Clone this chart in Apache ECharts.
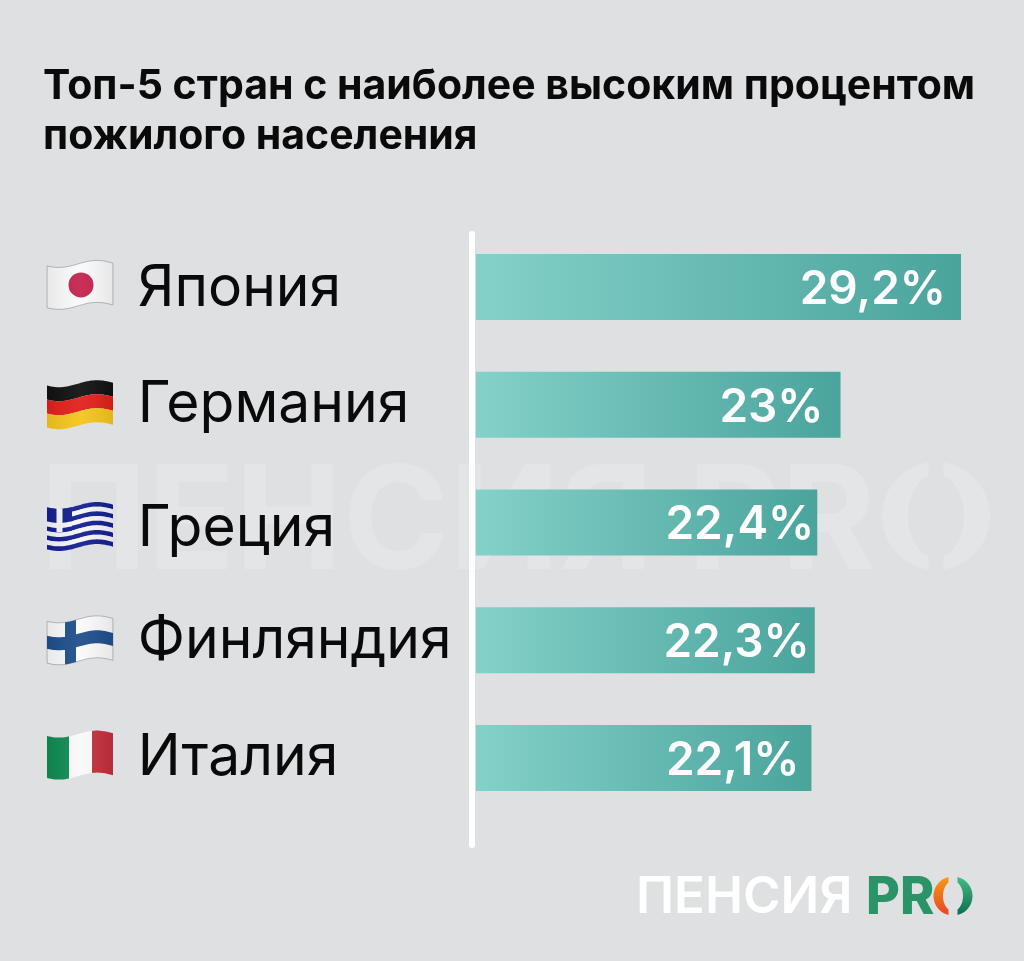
<!DOCTYPE html>
<html lang="ru">
<head>
    <title>Топ-5 стран</title>
    <meta charset="utf-8" />
    <script src="https://cdn.jsdelivr.net/npm/echarts@6/dist/echarts.min.js"></script>
    <style>
        html, body { margin: 0; padding: 0; background-color: #dfe0e2; }
        #main { width: 1024px; height: 961px; }
    </style>
</head>
<body>
<div id="main"></div>
<script>
    let countries = ['Япония', 'Германия', 'Греция', 'Финляндия', 'Италия']
    let flags = ['jp', 'de', 'gr', 'fi', 'it']
    // printed values
    let valueLabels = ['29,2%', '23%', '22,4%', '22,3%', '22,1%']
    // bar lengths as drawn in the picture (they are not proportional to the printed values)
    let barLengths = [29.2, 21.95, 20.55, 20.4, 20.2]

    let fontName = 'Inter, "Noto Sans", sans-serif'
    let labelInset = [19, 21, 7, 9, 16]
    let flagShift = [-2, 0, 4, 0, -3]
    let namePadding = [4, 0, 12, 2, 0]

    function waveY(x) {
        return 3.5 * Math.sin(2 * Math.PI * (x + 7) / 76)
    }

    // piece of the waving flag, x from 0 to 66, y from -21 to 21
    function piece(x0, x1, y0, y1, fill, stroke) {
        let pts = []
        for (let x = x0; x < x1; x += 2) pts.push([x, y0 + waveY(x)])
        pts.push([x1, y0 + waveY(x1)])
        for (let x = x1; x > x0; x -= 2) pts.push([x, y1 + waveY(x)])
        pts.push([x0, y1 + waveY(x0)])
        return { type: 'polygon', shape: { points: pts }, style: { fill: fill, stroke: stroke || null, lineWidth: 1 } }
    }

    function flagChildren(code) {
        let out = []
        if (code === 'jp') {
            out.push(piece(0, 66, -21, 21, '#fafafa', '#b4b6b6'))
            out.push({ type: 'circle', shape: { cx: 34, cy: 0, r: 12.5 }, style: { fill: '#c4244f' } })
        } else if (code === 'de') {
            out.push(piece(0, 66, -21, -7, '#111111'))
            out.push(piece(0, 66, -7, 7, '#e2201c'))
            out.push(piece(0, 66, 7, 21, '#f4c51c'))
        } else if (code === 'gr') {
            for (let i = 0; i < 9; i++) {
                out.push(piece(0, 66, -21 + i * 42 / 9, -21 + (i + 1) * 42 / 9, i % 2 ? '#f6f6fa' : '#141f90'))
            }
            out.push(piece(0, 25, -21, 2.4, '#141f90'))
            out.push(piece(9.5, 15.5, -21, 2.4, '#f6f6fa'))
            out.push(piece(0, 25, -7, -2, '#f6f6fa'))
        } else if (code === 'fi') {
            out.push(piece(0, 66, -21, 21, '#fafafa', '#b4b6b6'))
            out.push(piece(18, 29, -21, 21, '#1f4f8c'))
            out.push(piece(0, 66, -6.5, 6.5, '#1f4f8c'))
        } else if (code === 'it') {
            out.push(piece(0, 22, -21, 21, '#0f8c52'))
            out.push(piece(22, 45, -21, 21, '#fafafa'))
            out.push(piece(45, 66, -21, 21, '#c42f3d'))
        }
        // soft shading over the cloth
        out.push(piece(0, 66, -21, 21, new echarts.graphic.LinearGradient(0, 0, 1, 0, [
            { offset: 0, color: 'rgba(0,0,0,0.07)' },
            { offset: 0.5, color: 'rgba(255,255,255,0.06)' },
            { offset: 1, color: 'rgba(0,0,0,0.08)' }
        ])))
        return out
    }

    // half of the "O" in the logo, cut vertically in the middle
    function bracket(cx, cy, R, rx, ry, gap, side) {
        let pts = []
        let a0 = Math.asin(gap / R), a1 = Math.asin(gap / rx)
        for (let i = 0; i <= 24; i++) {
            let a = a0 + (Math.PI - 2 * a0) * i / 24
            pts.push([cx + side * R * Math.sin(a), cy - R * Math.cos(a)])
        }
        for (let i = 24; i >= 0; i--) {
            let a = a1 + (Math.PI - 2 * a1) * i / 24
            pts.push([cx + side * rx * Math.sin(a), cy - ry * Math.cos(a)])
        }
        return pts
    }

    let chart = echarts.init(document.getElementById('main'), null, { renderer: 'canvas' })

    let watermark = '#e4e5e7'
    let logoGreen = new echarts.graphic.LinearGradient(0, 0, 0, 1, [
        { offset: 0, color: '#45bb85' },
        { offset: 1, color: '#0b6e4f' }
    ])
    let logoOrange = new echarts.graphic.LinearGradient(0, 0, 0, 1, [
        { offset: 0, color: '#f59a12' },
        { offset: 1, color: '#e8452a' }
    ])

    // one rich style per row, only the top padding differs
    let nameStyles = {}
    namePadding.forEach(function (pad, i) {
        nameStyles['n' + i] = { fontFamily: fontName, fontSize: 57, color: '#0a0a0a', padding: [pad, 0, 0, 0] }
    })

    chart.setOption({
        backgroundColor: '#dfe0e2',
        animation: false,
        title: {
            left: 38,
            top: 57,
            text: 'Топ-5 стран с наиболее высоким процентом\nпожилого населения',
            textStyle: { fontFamily: fontName, fontSize: 41, fontWeight: 700, color: '#0a0a0a', lineHeight: 50 }
        },
        grid: { left: 475.8, right: 63, top: 228, height: 589, outerBoundsMode: 'none' },
        xAxis: { type: 'value', min: 0, max: 29.2, show: false },
        yAxis: {
            type: 'category',
            inverse: true,
            data: countries,
            axisLine: { show: false },
            axisTick: { show: false },
            axisLabel: {
                align: 'left',
                margin: 338,
                formatter: function (value, index) {
                    return '{n' + index + '|' + value + '}'
                },
                rich: nameStyles
            }
        },
        series: [
            {
                type: 'bar',
                data: barLengths,
                barWidth: 66,
                itemStyle: {
                    color: new echarts.graphic.LinearGradient(0, 0, 1, 0, [
                        { offset: 0, color: '#84d1c9' },
                        { offset: 1, color: '#4aa49c' }
                    ])
                },
                label: {
                    show: true,
                    position: 'insideRight',
                    formatter: function (p) { return valueLabels[p.dataIndex] },
                    fontFamily: fontName,
                    fontSize: 46,
                    fontWeight: 600,
                    color: '#ffffff'
                },
                labelLayout: function (p) {
                    return { dx: 9 - labelInset[p.dataIndex], dy: 3 }
                }
            },
            {
                type: 'custom',
                clip: false,
                data: countries.map(function (c, i) { return [0, i] }),
                encode: { x: 0, y: 1 },
                renderItem: function (params, api) {
                    let y = api.coord([0, api.value(1)])[1]
                    return { type: 'group', x: 47, y: y + flagShift[params.dataIndex], children: flagChildren(flags[params.dataIndex]) }
                }
            }
        ],
        graphic: [
            { type: 'text', z: -5, left: 40, top: 454, style: { text: 'ПЕНСИЯ PR', font: '700 144px ' + fontName, fill: watermark } },
            { type: 'polygon', z: -5, shape: { points: bracket(936, 516, 54, 28, 42, 7.5, -1) }, style: { fill: watermark } },
            { type: 'polygon', z: -5, shape: { points: bracket(936, 516, 54, 28, 42, 7.5, 1) }, style: { fill: watermark } },
            { type: 'rect', z: 5, shape: { x: 469, y: 231, width: 6, height: 617, r: 3 }, style: { fill: '#ffffff' } },
            { type: 'text', z: 5, left: 636, top: 872, style: { text: 'ПЕНСИЯ', font: '600 51px ' + fontName, fill: '#ffffff' } },
            { type: 'text', z: 5, left: 866, top: 872, style: { text: 'PR', font: '800 52px ' + fontName, fill: '#2a9468' } },
            { type: 'polygon', z: 5, shape: { points: bracket(953, 896, 19.5, 10, 15, 4.5, -1) }, style: { fill: logoOrange } },
            { type: 'polygon', z: 5, shape: { points: bracket(953, 896, 19.5, 10, 15, 4.5, 1) }, style: { fill: logoGreen } }
        ]
    })
</script>
</body>
</html>
